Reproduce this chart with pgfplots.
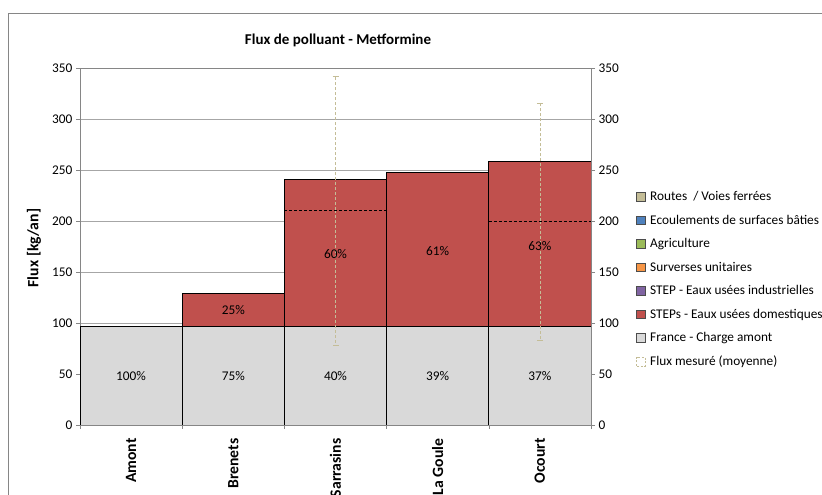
\documentclass[border=0pt]{standalone}
\usepackage{fontspec}
\setmainfont{Carlito}
\usepackage{pgfplots}
\pgfplotsset{compat=1.18}
\definecolor{stepred}{HTML}{C0504D}
\definecolor{grayfr}{HTML}{D9D9D9}
\definecolor{axgray}{HTML}{868686}
\definecolor{gridgray}{HTML}{A6A6A6}
\definecolor{tanc}{HTML}{C4BD97}
\definecolor{bluec}{HTML}{4F81BD}
\definecolor{greenc}{HTML}{9BBB59}
\definecolor{orangec}{HTML}{F79646}
\definecolor{purplec}{HTML}{8064A2}
\newcommand\fs{\fontsize{13.3pt}{15pt}\selectfont}
\newcommand\fb{\fontsize{15.7pt}{18pt}\selectfont\bfseries}
\pgfplotsset{
  sqleg/.style={legend image code/.code={\draw[##1, draw=black!70, line width=0.5pt] (0pt,-4.3pt) rectangle (8.6pt,4.3pt); \path (12pt,0pt);}},
  dashleg/.style={legend image code/.code={\draw[tanc, dashed, dash pattern=on 2pt off 1.5pt, line width=0.7pt] (0pt,-4.3pt) rectangle (8.6pt,4.3pt); \path (12pt,0pt);}},
}
\begin{document}
\begin{tikzpicture}
\useasboundingbox (0pt,0pt) rectangle (822pt,495pt);
\draw[axgray, line width=0.6pt] (8pt,-20pt) -- (8pt,482pt) -- (840pt,482pt);
\node[font=\fontsize{15pt}{18pt}\selectfont\bfseries] at (338pt,455pt) {Flux de polluant - Metformine};
\node[font=\fb, rotate=90] at (34pt,247pt) {Flux [kg/an]};
% main axis
\begin{axis}[
  at={(80pt,70pt)}, anchor=south west, scale only axis,
  width=511pt, height=356.5pt,
  xmin=-0.5, xmax=4.5, ymin=0, ymax=350,
  ytick={0,50,...,350}, ytick pos=left,
  xtick={0,1,2,3,4},
  xticklabels={Amont,Brenets,Sarrasins,La Goule,Ocourt},
  xticklabel style={rotate=90, anchor=east, font=\fb, xshift=-6pt},
  x tick style={draw=none},
  ymajorgrids, grid style={gridgray, line width=0.6pt},
  axis line style={axgray, line width=0.6pt},
  y tick style={axgray, line width=0.6pt},
  tick align=outside, major tick length=4pt,
  yticklabel style={font=\fs},
  /pgf/number format/assume math mode=true,
  ybar stacked, bar width=1,
  legend cell align=left,
  legend style={draw=none, fill=none, font=\fs, at={(1.088,0.66)}, anchor=north west,
    row sep=9.8pt, inner sep=0pt, nodes={inner sep=1.5pt}},
]
\addplot[forget plot, fill=grayfr, draw=black, line width=0.8pt] coordinates {(0,97) (1,97) (2,97) (3,97) (4,97)};
\addplot[forget plot, fill=stepred, draw=black, line width=0.8pt] coordinates {(0,0) (1,32) (2,144) (3,151) (4,162)};
\addlegendimage{sqleg, fill=tanc}
\addlegendentry{Routes\ \ / Voies ferrées}
\addlegendimage{sqleg, fill=bluec}
\addlegendentry{Ecoulements de surfaces bâties}
\addlegendimage{sqleg, fill=greenc}
\addlegendentry{Agriculture}
\addlegendimage{sqleg, fill=orangec}
\addlegendentry{Surverses unitaires}
\addlegendimage{sqleg, fill=purplec}
\addlegendentry{STEP - Eaux usées industrielles}
\addlegendimage{sqleg, fill=stepred}
\addlegendentry{STEPs - Eaux usées domestiques}
\addlegendimage{sqleg, fill=grayfr}
\addlegendentry{France - Charge amont}
\addlegendimage{dashleg}
\addlegendentry{Flux mesuré (moyenne)}
\end{axis}
% overlay axis: right labels, boundary ticks, measured flux
\begin{axis}[
  at={(80pt,70pt)}, anchor=south west, scale only axis,
  width=511pt, height=356.5pt,
  xmin=-0.5, xmax=4.5, ymin=0, ymax=350,
  axis x line*=bottom, axis y line*=right,
  ytick={0,50,...,350},
  xtick={-0.5,0.5,1.5,2.5,3.5,4.5}, xticklabels={},
  axis line style={axgray, line width=0.6pt},
  tick style={axgray, line width=0.6pt},
  tick align=outside, major tick length=4pt,
  yticklabel style={font=\fs},
  /pgf/number format/assume math mode=true,
]
\addplot[draw=none, mark=none, error bars/.cd, y dir=both, y explicit,
  error bar style={draw=tanc, dashed, dash pattern=on 3pt off 2pt, line width=0.7pt},
  error mark options={draw=tanc, solid, mark size=3pt, line width=0.7pt, rotate=90}]
  coordinates {(2,211) += (0,131) -= (0,132.5) (4,200) += (0,116) -= (0,116.6)};
\addplot[black, mark=none, dash pattern=on 3pt off 2pt, line width=0.8pt] coordinates {(1.5,211) (2.5,211)};
\addplot[black, mark=none, dash pattern=on 3pt off 2pt, line width=0.8pt] coordinates {(3.5,200) (4.5,200)};
\node[font=\fs] at (axis cs:0,48.5) {100\%};
\node[font=\fs] at (axis cs:1,48.5) {75\%};
\node[font=\fs] at (axis cs:2,48.5) {40\%};
\node[font=\fs] at (axis cs:3,48.5) {39\%};
\node[font=\fs] at (axis cs:4,48.5) {37\%};
\node[font=\fs] at (axis cs:1,113) {25\%};
\node[font=\fs] at (axis cs:2,168) {60\%};
\node[font=\fs] at (axis cs:3,171) {61\%};
\node[font=\fs] at (axis cs:4,176) {63\%};
\end{axis}
\end{tikzpicture}
\end{document}
